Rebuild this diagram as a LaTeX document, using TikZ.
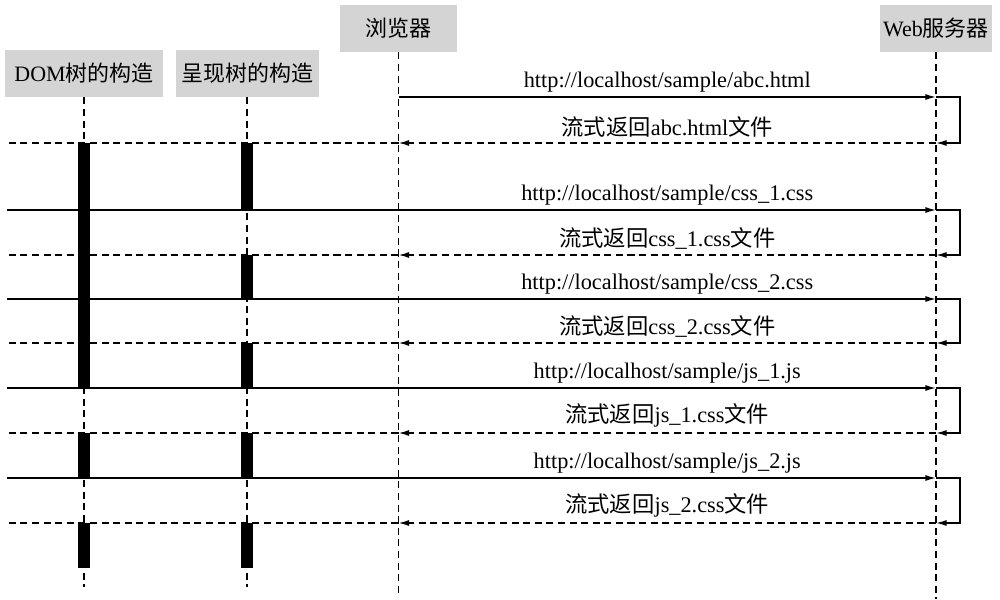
\documentclass[tikz,border=0pt]{standalone}
\usepackage{fontspec}
\setmainfont{Liberation Serif}
\newfontfamily\cjk{Noto Sans CJK SC}
\usetikzlibrary{arrows.meta,positioning}
\definecolor{HeadGray}{RGB}{212,212,212}
\tikzset{
  hdr/.style={fill=HeadGray, minimum height=0.94cm, inner sep=2pt, font=\fontsize{12.5}{15}\selectfont},
  life/.style={line width=0.8pt, dash pattern=on 4pt off 2.6pt},
  msg/.style={line width=0.8pt, -{Latex[length=6pt,width=3.4pt]}},
  back/.style={line width=0.8pt, dash pattern=on 4pt off 2.6pt, -{Latex[length=6pt,width=3.4pt]}},
  actbar/.style={line width=6.8pt},
  lbl/.style={above, inner sep=2.6pt, font=\fontsize{12.7}{15}\selectfont}
}

\begin{document}
\begin{tikzpicture}[x=0.02cm, y=-0.02cm]
\useasboundingbox (0,0) rectangle (1000,599);
% heads
\node[hdr, minimum width=3.16cm] (dom) at (84,73.5) {DOM{\cjk 树的构造}};
\node[hdr, minimum width=2.86cm, right=0.24cm of dom] (render) {{\cjk 呈现树的构造}};
\node[hdr, minimum width=2.34cm] (browser) at (398.5,28.5) {{\cjk 浏览器}};
\node[hdr, minimum width=2.24cm] (server) at (936,28.5) {Web{\cjk 服务器}};
\coordinate (left) at (7,0);
\coordinate (stop) at (0,568);
\coordinate (foot) at (0,587);
% lifelines
\draw[life] (dom.south) -- (dom |- foot);
\draw[life] (render.south) -- (render |- foot);
\draw[life] (browser.south) -- (browser |- 0,597);
\draw[life] (server.south) -- (server |- 0,599);
% requests and responses
\foreach \from/\yq/\yr/\req/\resp [count=\i] in {%
  browser/97/143/abc.html/abc.html,
  left/210/255/css\_1.css/css\_1.css,
  left/299/343/css\_2.css/css\_2.css,
  left/388/433/js\_1.js/js\_1.css,
  left/478/523/js\_2.js/js\_2.css}{
  \coordinate (q\i) at (0,\yq);
  \coordinate (r\i) at (0,\yr);
  \draw[msg] (\from |- q\i) -- (server |- q\i);
  \path (browser |- q\i) -- node[lbl] {http://localhost/sample/\req} (server |- q\i);
  \draw[msg] (server |- q\i) -- ++(24,0) |- (server |- r\i);
  \draw[back] (server |- r\i) -- node[lbl] {{\cjk 流式返回}\resp{\cjk 文件}} (browser |- r\i);
  \draw[life] (browser |- r\i) -- (left |- r\i);
}
% activation bars
\draw[actbar] (dom |- r1) -- (dom |- q4);
\draw[actbar] (dom |- r4) -- (dom |- q5);
\draw[actbar] (dom |- r5) -- (dom |- stop);
\draw[actbar] (render |- r1) -- (render |- q2);
\draw[actbar] (render |- r2) -- (render |- q3);
\draw[actbar] (render |- r3) -- (render |- q4);
\draw[actbar] (render |- r4) -- (render |- q5);
\draw[actbar] (render |- r5) -- (render |- stop);
\end{tikzpicture}
\end{document}
